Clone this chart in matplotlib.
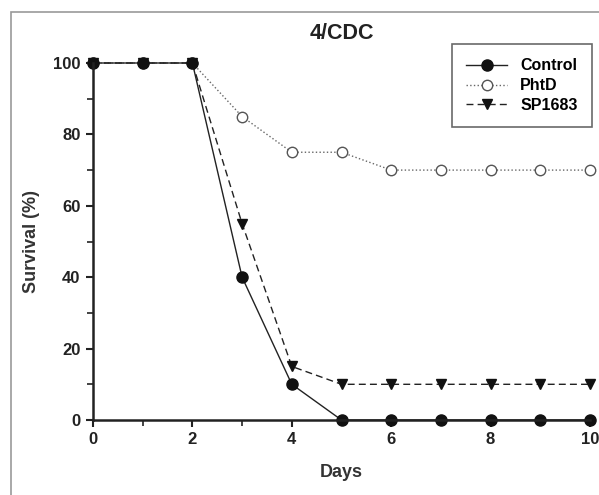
import matplotlib.pyplot as plt
from matplotlib.patches import Rectangle
from matplotlib.ticker import MultipleLocator

plt.rcParams['font.family'] = ['Liberation Sans', 'DejaVu Sans']
plt.rcParams['font.weight'] = 'bold'

days = [0, 1, 2, 3, 4, 5, 6, 7, 8, 9, 10]
control = [100, 100, 100, 40, 10, 0, 0, 0, 0, 0, 0]
phtd = [100, 100, 100, 85, 75, 75, 70, 70, 70, 70, 70]
sp1683 = [100, 100, 100, 55, 15, 10, 10, 10, 10, 10, 10]

fig = plt.figure(figsize=(5.99, 4.95), dpi=100)
# grey frame around the panel (cut off at right and bottom)
fig.patches.append(Rectangle((11 / 599, -0.1), 1.2, 1 - 12 / 495 + 0.1,
                             transform=fig.transFigure, fill=False,
                             edgecolor='#999999', linewidth=1.2))

ax = fig.add_axes([93 / 599, 1 - 420 / 495, 497 / 599, 357 / 495])

ax.plot(days, phtd, linestyle=':', color='#666666', linewidth=1,
        marker='o', markersize=7.5, markerfacecolor='white',
        markeredgecolor='#555555', markeredgewidth=1, label='PhtD', clip_on=False)
ax.plot(days, sp1683, linestyle=(0, (5, 3)), color='#222222', linewidth=1,
        marker='v', markersize=7.5, markerfacecolor='#111111',
        markeredgecolor='#111111', label='SP1683', clip_on=False)
ax.plot(days, control, linestyle='-', color='#222222', linewidth=1,
        marker='o', markersize=8, markerfacecolor='#111111',
        markeredgecolor='#111111', label='Control', clip_on=False)

ax.set_xlim(0, 10)
ax.set_ylim(0, 100)
ax.xaxis.set_major_locator(MultipleLocator(2))
ax.xaxis.set_minor_locator(MultipleLocator(1))
ax.yaxis.set_major_locator(MultipleLocator(20))
ax.yaxis.set_minor_locator(MultipleLocator(10))

for s in ['top', 'right']:
    ax.spines[s].set_visible(False)
for s in ['left', 'bottom']:
    ax.spines[s].set_linewidth(1.8)
    ax.spines[s].set_color('#222222')

ax.tick_params(which='major', direction='out', length=5, width=1.5,
               labelsize=12, colors='#222222', pad=4)
ax.tick_params(which='minor', direction='out', length=4, width=1.2, colors='#222222')

ax.set_xlabel('Days', fontsize=13, fontweight='bold', color='#333333', labelpad=12)
ax.set_ylabel('Survival (%)', fontsize=13, fontweight='bold', color='#333333', labelpad=9)
ax.set_title('4/CDC', fontsize=15.5, fontweight='bold', color='#222222', pad=17)

handles, labels = ax.get_legend_handles_labels()
order = [2, 0, 1]
leg = ax.legend([handles[i] for i in order], [labels[i] for i in order],
                loc='upper right', bbox_to_anchor=(1.004, 1.053), borderaxespad=0,
                frameon=True, fancybox=False, edgecolor='#444444',
                handlelength=2.6, borderpad=0.9, labelspacing=0.3,
                prop={'weight': 'bold', 'size': 11.5})
leg.get_frame().set_linewidth(1.2)

fig.savefig('out.png', dpi=100)
